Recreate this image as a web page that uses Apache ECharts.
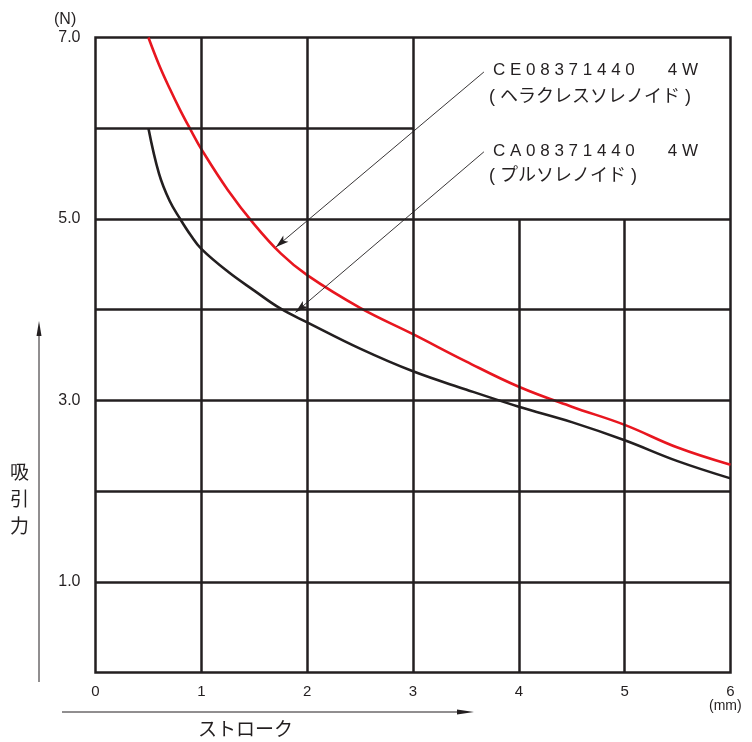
<!DOCTYPE html>
<html><head><meta charset="utf-8">
<script src="https://cdn.jsdelivr.net/npm/echarts@6/dist/echarts.min.js"></script>
<style>html,body{margin:0;padding:0;background:#fff}#c{width:752px;height:742px}</style>
</head><body><div id="c"></div>
<script>
// Data (stroke in mm, force in N)
const strokeX = [0.5, 0.6, 0.7, 0.8, 0.9, 1.0, 1.25, 1.5, 1.75, 2.0, 2.5, 3.0, 3.5, 4.0, 4.5, 5.0, 5.5, 6.0];
const redY   = [7.0, 6.7, 6.44, 6.2, 5.98, 5.77, 5.32, 4.94, 4.62, 4.38, 4.02, 3.73, 3.43, 3.15, 2.93, 2.73, 2.48, 2.29];
const blackY = [6.0, 5.5, 5.2, 5.0, 4.82, 4.67, 4.42, 4.21, 4.01, 3.86, 3.57, 3.32, 3.12, 2.93, 2.76, 2.56, 2.33, 2.14];
const xTicks = [0, 1, 2, 3, 4, 5, 6];
const yTickLabels = ['1.0', '3.0', '5.0', '7.0'];
// interior grid lines: position and extent
const vLines = [1, 2, 3, 4, 5];
const vLinesTop = [7, 7, 7, 5, 5];
const hLines = [1, 2, 3, 4, 5, 6];
const hLinesRight = [6, 6, 6, 6, 6, 3];
// leader lines: [start, tip]
const leaderRed = [[3.67, 6.62], [1.705, 4.69]];
const leaderBlack = [[3.67, 5.74], [1.89, 3.97]];

const INK = '#231f20';
const RED = '#e8161f';
const LAT = '"Liberation Sans", Arial, sans-serif';
const JP = '"Liberation Sans", "Noto Sans CJK JP", sans-serif';

const gridLines = [];
vLines.forEach((v, i) => gridLines.push([{coord: [v, 0]}, {coord: [v, vLinesTop[i]]}]));
hLines.forEach((v, i) => gridLines.push([{coord: [0, v]}, {coord: [hLinesRight[i], v]}]));

const chart = echarts.init(document.getElementById('c'), null, {renderer: 'canvas'});
chart.setOption({
  backgroundColor: '#fff',
  animation: false,
  grid: {left: 95.5, top: 37.5, width: 635, height: 635, show: true, borderColor: INK, borderWidth: 2.5, backgroundColor: 'transparent'},
  xAxis: {
    type: 'value', min: 0, max: 6, interval: 1,
    axisLine: {show: false}, axisTick: {show: false}, splitLine: {show: false},
    axisLabel: {margin: 12, color: INK, fontSize: 15, fontFamily: LAT,
      formatter: v => xTicks.indexOf(v) >= 0 ? String(v) : ''}
  },
  yAxis: {
    type: 'value', min: 0, max: 7, interval: 1,
    axisLine: {show: false}, axisTick: {show: false}, splitLine: {show: false},
    axisLabel: {margin: 15, color: INK, fontSize: 16, fontFamily: LAT, verticalAlign: 'middle',
      formatter: v => { const s = v.toFixed(1); return yTickLabels.indexOf(s) >= 0 ? s : ''; }}
  },
  series: [
    {
      type: 'line', data: [], z: 1, silent: true,
      markLine: {silent: true, symbol: 'none', animation: false, label: {show: false},
        lineStyle: {color: INK, width: 2.5, type: 'solid'}, data: gridLines}
    },
    {
      type: 'line', data: [], z: 2, silent: true,
      markLine: {silent: true, symbol: ['none', 'arrow'], symbolSize: [6, 13], animation: false, label: {show: false},
        lineStyle: {color: INK, width: 0.9, type: 'solid'},
        data: [
          [{coord: leaderRed[0]}, {coord: leaderRed[1]}],
          [{coord: leaderBlack[0]}, {coord: leaderBlack[1]}]
        ]}
    },
    {
      name: 'CA08371440', type: 'line', z: 3, smooth: 0.4, symbol: 'none',
      lineStyle: {color: INK, width: 2.6},
      data: strokeX.map((x, i) => [x, blackY[i]])
    },
    {
      name: 'CE08371440', type: 'line', z: 4, smooth: 0.4, symbol: 'none',
      lineStyle: {color: RED, width: 2.6},
      data: strokeX.map((x, i) => [x, redY[i]])
    }
  ],
  graphic: [
    {type: 'text', left: 54, top: 12, style: {text: '(N)', font: '16px ' + LAT, fill: INK}},
    {type: 'text', left: 709, top: 699, style: {text: '(mm)', font: '14px ' + LAT, fill: INK}},
    {type: 'text', left: 493, top: 62, style: {text: 'C E 0 8 3 7 1 4 4 0       4 W', font: '17px ' + LAT, fill: INK}},
    {type: 'text', left: 489, top: 88, style: {text: '( ヘラクレスソレノイド )', font: '18px ' + JP, fill: INK}},
    {type: 'text', left: 493, top: 143, style: {text: 'C A 0 8 3 7 1 4 4 0       4 W', font: '17px ' + LAT, fill: INK}},
    {type: 'text', left: 489, top: 167, style: {text: '( プルソレノイド )', font: '18px ' + JP, fill: INK}},
    // y axis name and arrow
    {type: 'text', left: 10, top: 458, style: {text: '吸\n引\n力', font: '19px "Noto Sans CJK JP", sans-serif', lineHeight: 27, fill: INK}},
    {type: 'line', shape: {x1: 39, y1: 682, x2: 39, y2: 332}, style: {stroke: INK, lineWidth: 1}},
    {type: 'polygon', shape: {points: [[39, 321], [41.5, 336], [36.5, 336]]}, style: {fill: INK}},
    // x axis name and arrow
    {type: 'text', left: 198, top: 719, style: {text: 'ストローク', font: '19px "Noto Sans CJK JP", sans-serif', fill: INK}},
    {type: 'line', shape: {x1: 62, y1: 712, x2: 462, y2: 712}, style: {stroke: INK, lineWidth: 1}},
    {type: 'polygon', shape: {points: [[474, 712], [457, 709.5], [457, 714.5]]}, style: {fill: INK}}
  ]
});
</script></body></html>
